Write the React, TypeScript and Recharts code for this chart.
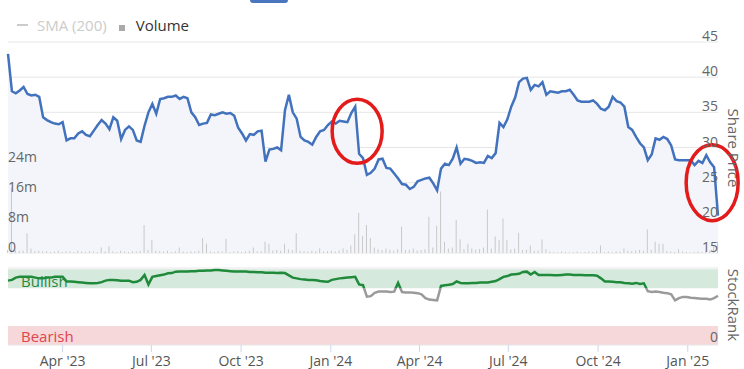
import React from 'react';
import {
  ComposedChart,
  Area,
  Line,
  Bar,
  XAxis,
  YAxis,
  CartesianGrid,
  ReferenceArea,
  ReferenceLine,
  ReferenceDot,
} from 'recharts';

const DAY = 86400000;
const START = Date.UTC(2023, 1, 4);
const STEP_DAYS = 4;

// share price, one reading every 4 days
const price = [
  43.3, 38.0, 37.7, 38.1, 38.6, 37.6, 37.4, 37.5, 37.2, 34.3,
  33.9, 33.6, 33.4, 33.3, 33.6, 31.0, 31.3, 31.3, 32.0, 32.3,
  31.8, 31.6, 32.4, 33.2, 33.9, 33.4, 32.6, 34.3, 33.8, 31.2,
  32.5, 33.0, 32.5, 31.0, 30.8, 33.1, 35.0, 36.2, 34.8, 36.9,
  37.0, 37.2, 37.2, 37.4, 36.9, 37.2, 37.0, 35.0, 34.3, 33.2,
  33.4, 33.5, 34.7, 34.6, 34.8, 35.0, 34.8, 34.9, 34.5, 32.8,
  32.0, 31.0, 31.9, 31.8, 32.3, 32.4, 28.0, 29.7, 29.8, 30.0,
  29.6, 35.3, 37.5, 35.0, 34.1, 31.5, 31.0, 30.8, 30.4, 31.5,
  32.3, 32.5, 33.2, 33.7, 33.4, 33.8, 33.7, 33.6, 34.9, 35.8,
  29.1, 28.5, 26.1, 26.4, 27.0, 28.3, 28.4, 27.1, 27.0, 26.3,
  25.6, 24.8, 24.7, 24.1, 24.4, 25.2, 25.4, 25.6, 25.7, 24.9,
  23.9, 27.0, 27.7, 27.5, 28.4, 30.0, 27.7, 28.4, 28.3, 28.1,
  27.8, 27.9, 27.8, 28.8, 28.5, 29.2, 33.5, 32.9, 34.0, 35.8,
  37.1, 39.3, 39.8, 39.9, 38.2, 38.9, 38.7, 39.3, 37.5, 38.0,
  37.9, 37.8, 38.0, 38.0, 38.2, 37.5, 36.7, 36.5, 36.5, 36.5,
  36.7, 36.2, 35.5, 35.3, 35.8, 37.2, 36.6, 36.4, 35.8, 32.9,
  32.5, 31.5, 30.6, 30.0, 28.2, 29.0, 31.3, 31.1, 31.5, 31.2,
  30.3, 28.3, 28.2, 28.2, 28.2, 28.2, 27.5, 28.1, 27.8, 28.9,
  27.9, 27.2, 20.3,
];

// volume in millions
const volumeM = [
  0.8, 17.5, 0.9, 0.6, 0.7, 5.3, 1.2, 0.5, 0.6, 0.4,
  0.5, 0.3, 0.4, 0.6, 0.3, 0.5, 0.4, 0.3, 0.6, 0.4,
  0.3, 0.5, 0.4, 0.3, 1.5, 0.4, 1.8, 0.5, 0.3, 0.6,
  0.4, 0.3, 0.5, 0.4, 0.6, 7.5, 0.8, 3.5, 0.6, 0.5,
  0.4, 0.6, 0.3, 0.5, 1.5, 0.4, 0.3, 0.5, 0.4, 0.6,
  4.0, 2.5, 0.4, 0.3, 0.5, 0.4, 3.8, 0.3, 0.4, 0.5,
  0.3, 0.4, 0.6, 1.5, 0.4, 0.5, 3.0, 2.5, 0.7, 0.8,
  0.6, 2.5, 1.0, 0.8, 5.3, 0.6, 0.5, 0.4, 0.6, 0.5,
  1.2, 0.4, 0.5, 0.6, 0.4, 0.7, 1.2, 0.8, 2.0, 5.0,
  10.7, 4.5, 7.5, 4.0, 1.5, 1.0, 0.8, 1.2, 0.9, 0.7,
  1.0, 7.0, 0.8, 0.9, 1.2, 0.7, 0.8, 1.0, 9.7, 1.5,
  7.3, 16.4, 3.0, 1.2, 1.5, 8.8, 3.7, 1.0, 2.5, 1.2,
  0.9, 1.1, 1.5, 11.6, 1.2, 4.4, 3.5, 9.2, 3.5, 1.0,
  1.2, 5.4, 0.8, 0.9, 2.0, 0.6, 0.7, 3.6, 1.0, 0.4,
  0.3, 0.2, 0.4, 0.3, 0.2, 0.3, 0.4, 0.2, 0.3, 0.4,
  0.3, 0.5, 2.0, 0.3, 0.4, 0.3, 0.5, 0.4, 1.2, 0.6,
  0.5, 0.7, 0.8, 0.6, 6.3, 0.9, 3.0, 2.5, 2.5, 0.6,
  0.4, 0.3, 1.0, 0.4, 0.3, 0.2, 0.3, 0.4, 0.3, 0.5,
  0.6, 2.0, 3.0,
];

const stockRank = [
  85, 86, 89, 90, 90, 90, 90, 89, 88, 88,
  89, 89, 90, 90, 90, 84, 84, 83.5, 83, 82.5,
  82, 81.5, 81.5, 82, 83, 85, 86, 86, 85.5, 85,
  85, 85, 83, 83.5, 86, 92.5, 80, 90, 91, 92,
  93, 94.7, 95, 96.9, 97, 97, 97, 97.5, 97.5, 98,
  98, 98.5, 98.5, 99, 99, 98.5, 98, 97.5, 97, 97,
  97, 97, 96.5, 96.5, 96, 96, 95.5, 95.5, 95.5, 95,
  95.5, 95, 92, 89, 88, 87, 86.5, 86, 86, 85.5,
  84.5, 84, 83.5, 86, 87, 88, 88.5, 89, 89.5, 90,
  80, 79, 64, 64.5, 69, 70.5, 70.5, 70.5, 70, 70.5,
  82, 70, 69.5, 69.5, 69, 68.5, 67, 62, 60, 59.5,
  59, 78, 79, 79.5, 80.5, 84, 82, 81.5, 81.5, 82,
  82, 82.5, 82.5, 82.5, 83.5, 84.5, 87, 90, 91, 93,
  93.5, 94, 96.5, 96.9, 93, 96.5, 92.5, 92.5, 92.5, 92.5,
  92, 92, 92.5, 93, 93, 92.5, 92.5, 92.5, 92, 92,
  92, 91.5, 88, 84, 84, 83.5, 83, 83, 82, 81.5,
  81, 82, 80.5, 81.5, 71, 70, 70.5, 70, 69, 68.5,
  67, 59, 62, 63.5, 63.5, 62.5, 62, 61.5, 61, 61,
  60, 62, 65,
];

const quarterTicks = [
  '2023-04-01', '2023-07-01', '2023-10-01', '2024-01-01',
  '2024-04-01', '2024-07-01', '2024-10-01', '2025-01-01',
];
const priceTicks = [15, 20, 25, 30, 35, 40, 45];
const volumeTicks = [0, 8, 16, 24];
const BULLISH_MIN = 75;
const BEARISH_MAX = 25;

// annotated spots: [date, price, rx, ry]
const circles: [string, number, number, number][] = [
  ['2024-01-28', 32.3, 25, 32],
  ['2025-01-26', 25.0, 26, 38],
];

const MONTHS = ['Jan', 'Feb', 'Mar', 'Apr', 'May', 'Jun', 'Jul', 'Aug', 'Sep', 'Oct', 'Nov', 'Dec'];
const toTs = (s: string) => Date.parse(s + 'T00:00:00Z');

const data = price.map((p, i) => ({
  t: START + i * STEP_DAYS * DAY,
  price: p,
  volume: volumeM[i] * 1e6,
  rank: stockRank[i],
}));
const domainX: [number, number] = [data[0].t, data[data.length - 1].t];

const FONT = '"Open Sans", sans-serif';
const BLUE = '#4272bd';
const PLOT_RIGHT = 744 - 26;
const PLOT_LEFT = 8;

const fmtQuarter = (t: number) => {
  const d = new Date(t);
  return `${MONTHS[d.getUTCMonth()]} '${String(d.getUTCFullYear()).slice(2)}`;
};

const rightTick = (dy: number) => (props: any) => (
  <text x={PLOT_RIGHT} y={props.y + dy} textAnchor="end" fill="#666" fontSize={14} fontFamily={FONT}>
    {props.payload.value}
  </text>
);

const volTick = (props: any) => (
  <text x={PLOT_LEFT} y={props.y - 1} textAnchor="start" fill="#666" fontSize={14} fontFamily={FONT}>
    {props.payload.value === 0 ? '0' : `${props.payload.value / 1e6}m`}
  </text>
);

const rMax = Math.max(...stockRank);
const rMin = Math.min(...stockRank);
const splitOff = (rMax - BULLISH_MIN) / (rMax - rMin);

export default function App() {
  return (
    <div
      style={{
        position: 'absolute',
        left: 0,
        top: 0,
        width: 744,
        height: 369,
        background: '#fff',
        fontFamily: FONT,
        overflow: 'hidden',
      }}
    >
      {/* cut-off range button at the top */}
      <div style={{ position: 'absolute', left: 250, top: 0, width: 38, height: 3, background: '#4a76c0', borderRadius: '0 0 3px 3px' }} />

      {/* legend */}
      <div style={{ position: 'absolute', left: 17, top: 14, height: 22, display: 'flex', alignItems: 'center', fontSize: 15 }}>
        <span style={{ display: 'inline-block', width: 11, height: 2, background: '#ccc', marginRight: 9 }} />
        <span style={{ color: '#ccc' }}>SMA (200)</span>
        <span style={{ display: 'inline-block', width: 6, height: 6, background: '#aaa', marginLeft: 12, marginRight: 11, marginTop: 5 }} />
        <span style={{ color: '#333' }}>Volume</span>
      </div>

      <div style={{ position: 'absolute', left: 0, top: 0 }}>
        <ComposedChart width={744} height={262} data={data} margin={{ top: 42, right: 26, bottom: 9, left: 8 }}>
          <CartesianGrid yAxisId="price" vertical={false} stroke="#e6e6e6" />
          <XAxis dataKey="t" type="number" domain={domainX} hide />
          <YAxis
            yAxisId="price"
            orientation="right"
            domain={[15, 45]}
            ticks={priceTicks}
            mirror
            axisLine={false}
            tickLine={false}
            tick={rightTick(-1)}
          />
          <YAxis
            yAxisId="vol"
            orientation="left"
            domain={[0, 56.27e6]}
            ticks={volumeTicks.map((v) => v * 1e6)}
            mirror
            axisLine={false}
            tickLine={false}
            tick={volTick}
          />
          <Area yAxisId="price" dataKey="price" type="linear" stroke="none" fill="#f4f5fa" fillOpacity={1} isAnimationActive={false} />
          <Bar yAxisId="vol" dataKey="volume" fill="#c8c8c8" barSize={1} isAnimationActive={false} />
          <Line yAxisId="price" dataKey="price" type="linear" stroke={BLUE} strokeWidth={2.5} dot={false} isAnimationActive={false} />
          {circles.map(([d, p, rx, ry]) => (
            <ReferenceDot
              key={d}
              yAxisId="price"
              x={toTs(d)}
              y={p}
              shape={(props: any) => (
                <ellipse cx={props.cx} cy={props.cy} rx={rx} ry={ry} fill="none" stroke="#e31b1b" strokeWidth={3.5} />
              )}
            />
          ))}
        </ComposedChart>
      </div>

      <div style={{ position: 'absolute', left: 0, top: 262 }}>
        <ComposedChart width={744} height={107} data={data} margin={{ top: 6, right: 26, bottom: 0, left: 8 }}>
          <defs>
            <linearGradient id="rankSplit" x1="0" y1="0" x2="0" y2="1">
              <stop offset={splitOff} stopColor="#1e8a3a" />
              <stop offset={splitOff} stopColor="#9a9a9a" />
            </linearGradient>
          </defs>
          <XAxis
            dataKey="t"
            type="number"
            domain={domainX}
            ticks={quarterTicks.map(toTs)}
            tickFormatter={fmtQuarter}
            height={24}
            axisLine={{ stroke: '#e6e6e6' }}
            tickLine={{ stroke: '#ccd6eb' }}
            tickSize={7}
            tickMargin={4}
            tick={{ fill: '#555', fontSize: 14, fontFamily: FONT }}
          />
          <YAxis
            orientation="right"
            domain={[0, 101.7]}
            ticks={[0]}
            mirror
            axisLine={false}
            tickLine={false}
            tick={rightTick(-3)}
          />
          <ReferenceLine y={101.7} stroke="#e6e6e6" />
          <ReferenceArea
            y1={BULLISH_MIN}
            y2={100}
            fill="#d5e9dc"
            fillOpacity={1}
            stroke="none"
            label={{ value: 'Bullish', position: 'insideLeft', offset: 13, fill: '#2a8a3c', fontSize: 15, dy: 3 }}
          />
          <ReferenceArea
            y1={0}
            y2={BEARISH_MAX}
            fill="#f6d7da"
            fillOpacity={1}
            stroke="none"
            label={{ value: 'Bearish', position: 'insideLeft', offset: 13, fill: '#e0454d', fontSize: 15, dy: 1 }}
          />
          <Line dataKey="rank" type="linear" stroke="url(#rankSplit)" strokeWidth={2.5} dot={false} isAnimationActive={false} />
        </ComposedChart>
      </div>

      {/* axis titles */}
      <div style={{ position: 'absolute', left: 734, top: 148, transform: 'translate(-50%, -50%) rotate(90deg)', fontSize: 15, color: '#666', whiteSpace: 'nowrap' }}>
        Share Price
      </div>
      <div style={{ position: 'absolute', left: 734, top: 305, transform: 'translate(-50%, -50%) rotate(90deg)', fontSize: 15, color: '#666', whiteSpace: 'nowrap' }}>
        StockRank
      </div>
    </div>
  );
}
